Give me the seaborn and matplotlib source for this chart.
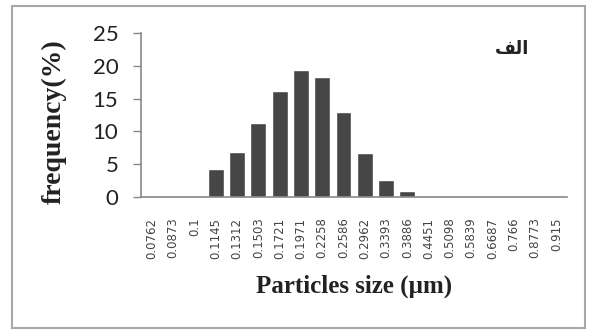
import numpy as np
import pandas as pd
import matplotlib
matplotlib.use('Agg')
import matplotlib.pyplot as plt
import seaborn as sns
from matplotlib.patches import Rectangle

# particle size classes (µm) and their frequency (%)
sizes = ['0.0762', '0.0873', '0.1', '0.1145', '0.1312', '0.1503', '0.1721',
         '0.1971', '0.2258', '0.2586', '0.2962', '0.3393', '0.3886', '0.4451',
         '0.5098', '0.5839', '0.6687', '0.766', '0.8773', '0.915']
freq = [0, 0, 0, 4.2, 6.9, 11.2, 16.2, 19.4, 18.3, 13.0, 6.7, 2.5, 0.8, 0,
        0, 0, 0, 0, 0, 0]
yticks = [0, 5, 10, 15, 20, 25]

df = pd.DataFrame({'size': sizes, 'freq': freq})

sns.set_theme(style='white')
plt.rcParams['font.family'] = ['DejaVu Sans']

fig = plt.figure(figsize=(5.89, 3.31), dpi=100)
ax = fig.add_axes([141.3 / 589, 1 - 196.7 / 331, 425.7 / 589, 163.4 / 331])

sns.barplot(data=df, x='size', y='freq', color='#464646', width=0.75,
            saturation=1, ax=ax)

ax.set_xlim(-0.5, len(sizes) - 0.5)
ax.set_ylim(0, 25)
ax.set_yticks(yticks)
ax.set_yticklabels([str(t) for t in yticks], family='Lato', fontsize=16, color='#222222')

for lab in ax.get_xticklabels():
    lab.set_rotation(90)
    lab.set_fontsize(8.5)
    lab.set_color('#444444')
    lab.set_va('top')

ax.tick_params(axis='x', length=0, pad=15)
ax.tick_params(axis='y', left=True, length=6, width=1, color='#888888', pad=10.5)

for s in ['top', 'right']:
    ax.spines[s].set_visible(False)
for s in ['left', 'bottom']:
    ax.spines[s].set_color('#888888')
    ax.spines[s].set_linewidth(1.2)

ax.set_ylabel('frequency(%)', family='Liberation Serif', fontweight='bold',
              fontsize=20, color='#222222')
ax.yaxis.set_label_coords(-0.175, 0.457)
ax.set_xlabel('Particles size (µm)', family='Liberation Serif', fontweight='bold',
              fontsize=18, color='#222222')
ax.xaxis.set_label_coords(0.5, -0.475)

# panel letter "الف" (alef-lam-feh), written in visual order with shaped forms
ax.text(0.87, 0.905, '\uFED2\uFEDF\u0627', transform=ax.transAxes, fontsize=13,
        fontweight='bold', ha='center', va='center', color='#222222')

# grey frame round the picture
fig.patches.append(Rectangle((12 / 589, 1 - 328 / 331), 573 / 589, 322 / 331,
                             transform=fig.transFigure, fill=False,
                             edgecolor='#a8a8a8', linewidth=1.5))

fig.savefig('out.png', dpi=100)
